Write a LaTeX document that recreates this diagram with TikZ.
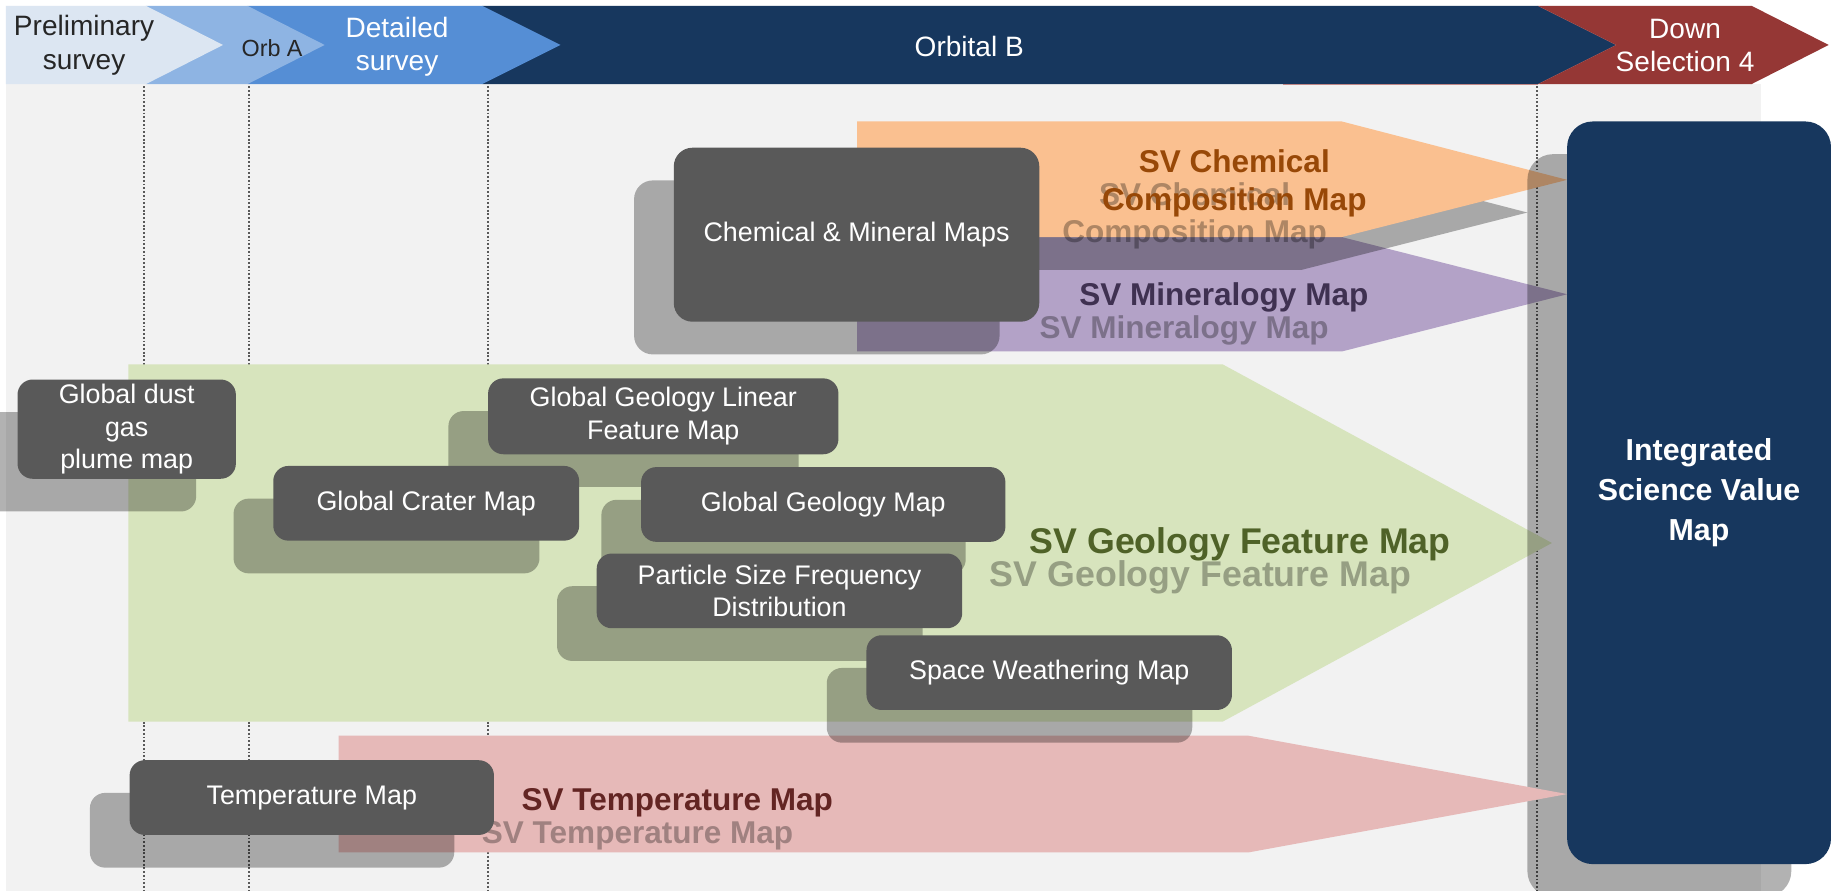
\documentclass[tikz,border=0pt]{standalone}
\usepackage{fontspec}
\setmainfont{Liberation Sans}
\usepackage{xcolor}
\usetikzlibrary{shadows, positioning}

\definecolor{bgGray}{HTML}{F2F2F2}
\definecolor{bannerLight}{HTML}{DCE6F2}
\definecolor{bannerMid}{HTML}{8EB4E3}
\definecolor{bannerBlue}{HTML}{558ED5}
\definecolor{navy}{HTML}{17375E}
\definecolor{downRed}{HTML}{953735}
\definecolor{boxGray}{HTML}{595959}
\definecolor{chemFill}{HTML}{FAC090}
\definecolor{chemText}{HTML}{984807}
\definecolor{minFill}{HTML}{B3A2C7}
\definecolor{minText}{HTML}{3F3151}
\definecolor{geoFill}{HTML}{D7E4BD}
\definecolor{geoText}{HTML}{4F6228}
\definecolor{tempFill}{HTML}{E6B9B8}
\definecolor{tempText}{HTML}{632523}

\begin{document}
\begin{tikzpicture}[
    x=1pt, y=-1pt,
    every node/.style={font=\fontsize{23}{28}\selectfont},
    ghost/.style={drop shadow={shadow xshift=-34pt, shadow yshift=-28pt, fill=black, opacity=.3}},
    mapbox/.style={rectangle, rounded corners=13pt, fill=boxGray, text=white,
                   align=center, inner sep=0pt, ghost},
    isvbox/.style={rectangle, rounded corners=22pt, fill=navy, text=white, align=center,
                   inner sep=0pt, ghost, font=\bfseries\fontsize{26}{34.5}\selectfont},
    banner/.style={font=\fontsize{24}{29}\selectfont, align=center, text=white},
    svtext/.style={font=\bfseries\fontsize{27}{32}\selectfont, align=center},
    svshade/.style={svtext, text=black, text opacity=.3},
    guide/.style={draw=black!65, line width=1.6pt, dash pattern=on 1.6pt off 1.6pt}
]
\clip (0,0) rectangle (1568,763);

% === Background and phase banner ===
\fill[white] (0,0) rectangle (1568,763);
\fill[bgGray] (5,72) rectangle (1508,763);

\fill[navy] (413,5) -- (1317,5) -- (1384,38.5) -- (1317,72) -- (413,72) -- cycle;
\fill[bannerBlue] (212,5) -- (413,5) -- (480,38.5) -- (413,72) -- (212,72) -- cycle;
\fill[bannerMid] (125,5) -- (212,5) -- (278,38.5) -- (212,72) -- (125,72) -- cycle;
\fill[bannerLight] (5,5) -- (125,5) -- (191,38.5) -- (125,72) -- (5,72) -- cycle;
\fill[downRed] (1317,5) -- (1500,5) -- (1566,38.5) -- (1500,72) -- (1317,72) -- (1384,38.5) -- cycle;
\draw[downRed!60, line width=1pt] (1099,72.5) -- (1317,72.5);

\node[banner, text=black!85] (prelim) at (72,39) {Preliminary\\survey};
\node[banner, text=black!85, font=\fontsize{20}{24}\selectfont] (orbA) at (233,41) {Orb A};
\node[banner] (detail) at (340,40) {Detailed\\survey};
\node[banner] (orbB) at (830,40) {Orbital B};
\node[banner] (downsel) at (1443,39) {Down\\Selection 4};

% phase boundaries
\foreach \gx in {123,213,418,1316}
    \draw[guide] (\gx,74) -- (\gx,763);

% === Science value arrows ===
\fill[geoFill] (110,312) -- (1047,312) -- (1329,465) -- (1047,618) -- (110,618) -- cycle;
\fill[minFill] (734,203) -- (1149,203) -- (1342,252) -- (1149,301) -- (734,301) -- cycle;
\fill[chemFill, ghost] (734,104) -- (1149,104) -- (1342,154) -- (1149,203) -- (734,203) -- cycle;

% integrated map
\node[isvbox, minimum width=226, minimum height=636] (isv) at (1455,422)
    {Integrated\\Science Value\\Map};

\fill[tempFill] (290,630) -- (1069,630) -- (1342,680) -- (1069,730) -- (290,730) -- cycle;

% arrow labels with their shadows
\node[svshade] (chemSh) at (1023,185) {SV Chemical\\Composition Map};
\node[svtext, text=chemText] (chemT) at (1057,157) {SV Chemical\\Composition Map};
\node[svshade, anchor=base] (minSh) at (1014,290) {SV Mineralogy Map};
\node[svtext, text=minText, anchor=base] (minT) at (1048,262) {SV Mineralogy Map};
\node[svshade, anchor=base, font=\bfseries\fontsize{30.6}{34}\selectfont] (geoSh) at (1028,502) {SV Geology Feature Map};
\node[svtext, text=geoText, anchor=base, font=\bfseries\fontsize{30.6}{34}\selectfont] (geoT) at (1062,474) {SV Geology Feature Map};
\node[svshade, anchor=base] (tempSh) at (546,722) {SV Temperature Map};
\node[svtext, text=tempText, anchor=base] (tempT) at (580,694) {SV Temperature Map};

% === Map products ===
\node[mapbox, minimum width=313, minimum height=149, rounded corners=16pt] (chem) at (733.5,201)
    {Chemical \& Mineral Maps};
\node[mapbox, minimum width=187, minimum height=85] (dust) at (108.5,367.5)
    {Global dust\\gas\\plume map};
\node[mapbox, minimum width=300, minimum height=65] (linear) at (568,356.5)
    {Global Geology Linear\\Feature Map};
\node[mapbox, minimum width=262, minimum height=64] (crater) at (365,431)
    {Global Crater Map};
\node[mapbox, minimum width=312, minimum height=64] (geology) at (705,432)
    {Global Geology Map};
\node[mapbox, minimum width=313, minimum height=64] (psfd) at (667.5,506)
    {Particle Size Frequency\\Distribution};
\node[mapbox, minimum width=313, minimum height=64] (weather) at (898.5,576)
    {Space Weathering Map};
\node[mapbox, minimum width=312, minimum height=64] (temp) at (267,683)
    {Temperature Map};

\end{tikzpicture}
\end{document}
